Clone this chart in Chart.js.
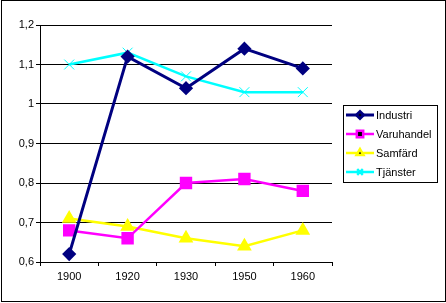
<!DOCTYPE html>
<html>
<head>
<meta charset="utf-8">
<script src="https://cdn.jsdelivr.net/npm/chart.js@4.4.1/dist/chart.umd.min.js"></script>
<style>
    body { margin: 0; background: #fff; }
    #wrap { width: 446px; height: 303px; }
</style>
</head>
<body>
<div id="wrap"><canvas id="chart" width="446" height="303"></canvas></div>
<script>
// data
const years = ['1900', '1920', '1930', '1950', '1960'];
const industri = [0.62, 1.12, 1.04, 1.14, 1.09];
const varuhandel = [0.68, 0.66, 0.80, 0.81, 0.78];
const samfard = [0.71, 0.69, 0.66, 0.64, 0.68];
const tjanster = [1.10, 1.13, 1.07, 1.03, 1.03];
const yTickLabels = ['0,6', '0,7', '0,8', '0,9', '1', '1,1', '1,2'];

Chart.defaults.font.family = '"Liberation Sans", Arial, sans-serif';
Chart.defaults.font.size = 11;
Chart.defaults.color = '#000';

// legend box on the right + outer frame
const sideLegend = {
    id: 'sideLegend',
    afterDraw(chart) {
        const ctx = chart.ctx;
        ctx.save();
        ctx.strokeStyle = '#000';
        ctx.lineWidth = 1;
        ctx.strokeRect(1.5, 0.5, 444, 301);
        ctx.strokeRect(343.5, 105.5, 94, 77);
        ctx.font = '11px "Liberation Sans", Arial, sans-serif';
        ctx.textBaseline = 'middle';
        chart.data.datasets.forEach((ds, i) => {
            const y = 115 + i * 19;
            ctx.strokeStyle = ds.borderColor;
            ctx.lineWidth = ds.borderWidth;
            ctx.beginPath();
            ctx.moveTo(346, y);
            ctx.lineTo(374, y);
            ctx.stroke();
            Chart.helpers.drawPoint(ctx, {
                pointStyle: ds.pointStyle,
                radius: ds.legendRadius,
                borderWidth: ds.pointBorderWidth || 1
            }, 360, y);
            ctx.fillStyle = '#000';
            ctx.fillText(ds.label, 376, y + 1);
        });
        ctx.restore();
    }
};

const ctx = document.getElementById('chart');
const chart = new Chart(ctx, {
    type: 'line',
    data: {
        labels: years,
        datasets: [{
            label: 'Industri',
            data: industri,
            borderColor: '#000080',
            backgroundColor: '#000080',
            borderWidth: 3,
            pointStyle: 'rectRot',
            pointRadius: 5,
            legendRadius: 3.5,
            tension: 0
        }, {
            label: 'Varuhandel',
            data: varuhandel,
            borderColor: '#ff00ff',
            backgroundColor: '#ff00ff',
            borderWidth: 2.5,
            pointStyle: 'rect',
            pointRadius: 7,
            legendRadius: 4.5,
            tension: 0
        }, {
            label: 'Samfärd',
            data: samfard,
            borderColor: '#ffff00',
            backgroundColor: '#ffff00',
            borderWidth: 2.5,
            pointStyle: 'triangle',
            pointRadius: 6,
            legendRadius: 4,
            tension: 0
        }, {
            label: 'Tjänster',
            data: tjanster,
            borderColor: '#00ffff',
            backgroundColor: '#00ffff',
            borderWidth: 2.5,
            pointStyle: 'crossRot',
            pointRadius: 7,
            pointBorderWidth: 1,
            legendRadius: 4,
            tension: 0
        }]
    },
    options: {
        responsive: false,
        animation: false,
        layout: {
            padding: { left: 0, top: 25, right: 114, bottom: 0 }
        },
        plugins: {
            legend: { display: false },
            tooltip: { enabled: false }
        },
        elements: {
            point: { borderWidth: 1 }
        },
        scales: {
            x: {
                offset: true,
                grid: {
                    offset: true,
                    drawOnChartArea: false,
                    drawTicks: true,
                    tickLength: 4,
                    color: '#000'
                },
                border: { color: '#000' },
                ticks: { padding: 4, maxRotation: 0 },
                afterFit(scale) { scale.height = 41; }
            },
            y: {
                min: 0.6,
                max: 1.2,
                grid: {
                    color: '#000',
                    tickLength: 4
                },
                border: { color: '#000' },
                ticks: {
                    stepSize: 0.1,
                    padding: 2,
                    callback: (value, index) => yTickLabels[index]
                },
                afterFit(scale) { scale.width = 40; }
            }
        }
    },
    plugins: [sideLegend]
});
</script>
</body>
</html>
